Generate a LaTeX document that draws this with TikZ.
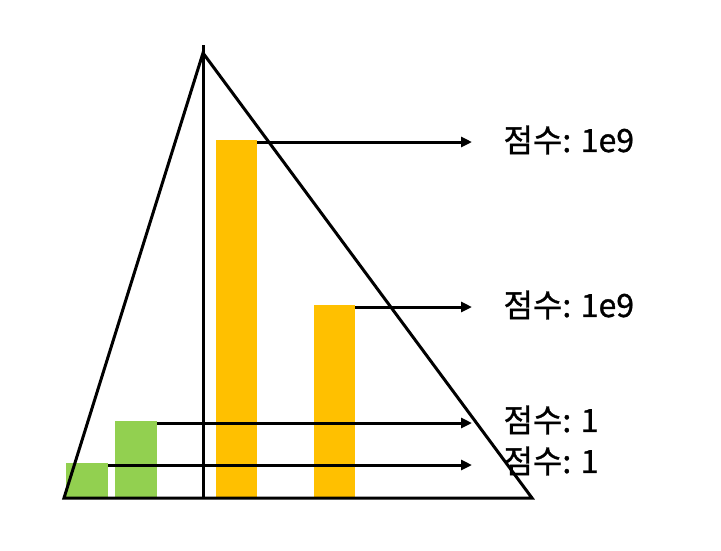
\documentclass[tikz,border=0pt]{standalone}
\usepackage{fontspec}
\usepackage{xcolor}
\newfontfamily\kofont[FakeBold=1]{Noto Sans CJK KR}
\usetikzlibrary{arrows.meta}
\definecolor{lowbar}{HTML}{92D050}
\definecolor{highbar}{HTML}{FFC000}

\begin{document}
\begin{tikzpicture}[x=1pt, y=-1pt, line width=3pt,
  bar/.style={inner sep=0pt, outer sep=0pt, anchor=south west},
  score/.style={font=\kofont\fontsize{32}{36}\selectfont, anchor=west, inner sep=0pt},
  pointer/.style={-{Triangle[length=11pt, width=10pt]}}]
  \useasboundingbox (0,0) rectangle (721,550);

  % bars
  \node[bar, fill=lowbar, minimum width=42pt, minimum height=35pt] (g1) at (66,498) {};
  \node[bar, fill=lowbar, minimum width=42pt, minimum height=77pt] (g2) at (115,498) {};
  \node[bar, fill=highbar, minimum width=41pt, minimum height=358pt] (y1) at (216,498) {};
  \node[bar, fill=highbar, minimum width=41pt, minimum height=193pt] (y2) at (314,498) {};

  % triangle and axis
  \coordinate (apex) at (203,53);
  \coordinate (top) at (203,45);
  \coordinate (left) at (64,498);
  \coordinate (right) at (532,498);
  \coordinate (base) at (203,498);
  \coordinate (tipline) at (472,0);
  \draw (apex) -- (left) -- (right) -- cycle;
  \draw (top) -- (base);

  % labels
  \node[score] (s1) at (502,140) {점수: 1e9};
  \node[score] (s2) at (502,305) {점수: 1e9};
  \node[score] (s3) at (502,420) {점수: 1};
  \node[score] (s4) at (502,461) {점수: 1};

  % pointers
  \draw[pointer] ([yshift=-2pt]y1.north east) -- ([yshift=-2pt]y1.north east -| tipline);
  \draw[pointer] ([yshift=-2pt]y2.north east) -- ([yshift=-2pt]y2.north east -| tipline);
  \draw[pointer] ([yshift=-2pt]g2.north east) -- ([yshift=-2pt]g2.north east -| tipline);
  \draw[pointer] ([yshift=-2pt]g1.north east) -- ([yshift=-2pt]g1.north east -| tipline);
\end{tikzpicture}
\end{document}
